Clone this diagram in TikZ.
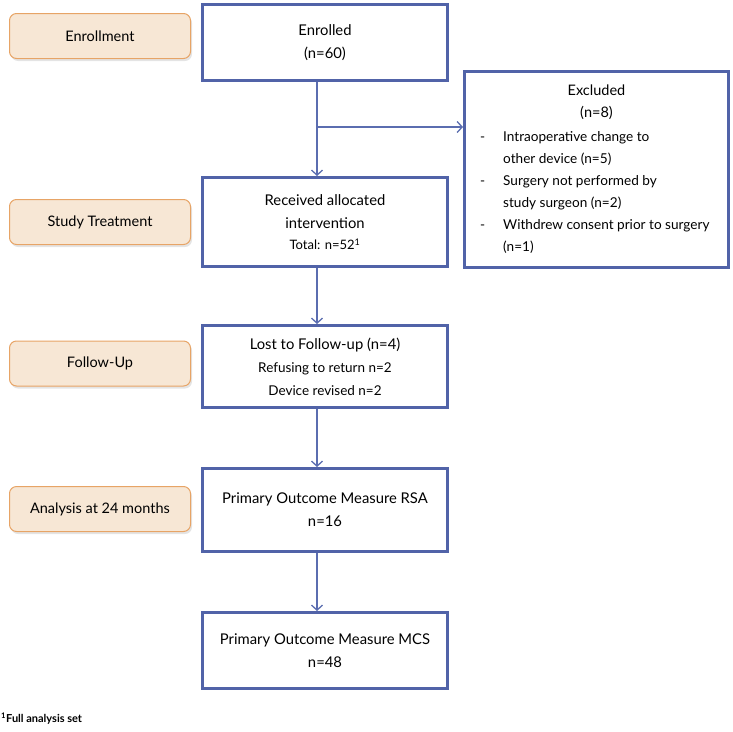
\documentclass[tikz,border=0pt]{standalone}
\usepackage{fontspec}
\setmainfont{Lato}
\usetikzlibrary{arrows.meta,shadows}
\definecolor{bblue}{HTML}{5163A8}
\definecolor{lblue}{HTML}{5B6DB0}
\definecolor{stagefill}{HTML}{F7E7D5}
\definecolor{stageedge}{HTML}{E7A466}
\begin{document}
\begin{tikzpicture}[x=1pt,y=-1pt,
  stagebox/.style={draw=stageedge, line width=1pt, fill=stagefill, rounded corners=7pt,
    minimum width=181pt, minimum height=45pt, inner sep=0pt,
    font=\fontsize{14.5}{17}\selectfont,
    drop shadow={shadow xshift=1.5pt, shadow yshift=-2.5pt, opacity=0.3, fill=gray!70}},
  mainbox/.style={draw=bblue, line width=3pt, fill=white, inner sep=0pt,
    minimum width=245pt, align=center, font=\fontsize{14.8}{23}\selectfont},
  arr/.style={draw=lblue, line width=1.3pt, -{Straight Barb[length=5pt,width=11pt]}},
  txt/.style={inner sep=0pt, font=\fontsize{13.6}{22}\selectfont}
]
\useasboundingbox (0,0) rectangle (733,731);
% stages
\node[stagebox] (s1) at (100,36) {Enrollment};
\node[stagebox] (s2) at (100,222) {Study Treatment};
\node[stagebox] (s3) at (100,363.5) {Follow-Up};
\node[stagebox] (s4) at (100,509) {Analysis at 24 months};
% main boxes
\node[mainbox, minimum height=76pt] (enrolled) at (325,42.5)
  {Enrolled\\(n=60)};
\node[mainbox, minimum height=89pt] (received) at (325,222)
  {Received allocated\\intervention\\[-2pt]{\fontsize{13}{14}\selectfont Total: n=52\textsuperscript{1}}};
\node[mainbox, minimum height=82pt] (lost) at (325,366.5)
  {Lost to Follow-up (n=4)\\{\fontsize{13.5}{22}\selectfont Refusing to return n=2}\\{\fontsize{13.5}{22}\selectfont Device revised n=2}};
\node[mainbox, minimum height=83pt] (rsa) at (325,510)
  {Primary Outcome Measure RSA\\n=16};
\node[mainbox, minimum height=76pt] (mcs) at (325,650.5)
  {Primary Outcome Measure MCS\\n=48};
\node[mainbox, minimum width=264pt, minimum height=196pt] (excluded) at (596.5,169.5) {};
\node[txt, align=center, anchor=north, font=\fontsize{14.5}{22}\selectfont] (extitle) at (596.5,85) {Excluded\\(n=8)};
\node[txt, align=left, anchor=north west] (exlist) at (480,131)
  {\makebox[23pt][l]{-}Intraoperative change to\\
   \hspace*{23pt}other device (n=5)\\
   \makebox[23pt][l]{-}Surgery not performed by\\
   \hspace*{23pt}study surgeon (n=2)\\
   \makebox[23pt][l]{-}Withdrew consent prior to surgery\\
   \hspace*{23pt}(n=1)};
% connectors
\coordinate (spine) at (317,0);
\coordinate (br) at (317,127);
\draw[arr] (enrolled.south -| spine) -- (received.north -| spine);
\draw[arr] (br) -- (br -| excluded.west);
\draw[arr] (received.south -| spine) -- (lost.north -| spine);
\draw[arr] (lost.south -| spine) -- (rsa.north -| spine);
\draw[arr] (rsa.south -| spine) -- (mcs.north -| spine);
% footnote
\node[inner sep=0pt, anchor=west, font=\bfseries\fontsize{11}{13}\selectfont] (foot) at (1,719)
  {\textsuperscript{1}Full analysis set};
\end{tikzpicture}
\end{document}
